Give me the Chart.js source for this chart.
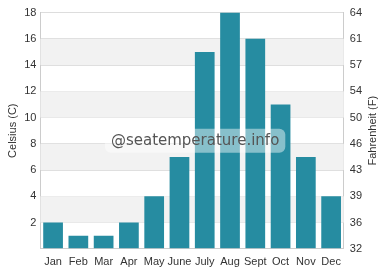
<!DOCTYPE html>
<html><head><meta charset="utf-8">
<script src="https://cdn.jsdelivr.net/npm/chart.js@4/dist/chart.umd.min.js"></script>
<style>html,body{margin:0;padding:0;background:#fff}#w{width:382px;height:280px}</style>
</head><body><div id="w"><canvas id="c"></canvas></div>
<script>
const categories = ["Jan","Feb","Mar","Apr","May","June","July","Aug","Sept","Oct","Nov","Dec"];
const celsiusValues = [2,1,1,2,4,7,15,18,16,11,7,4];
const celsiusTicks = [0,2,4,6,8,10,12,14,16,18];
const watermarkText = "@seatemperature.info";
const rightTitle = "Fahrenheit (F)";

const bandPlugin = {
  id: 'bands',
  beforeDatasetsDraw(chart) {
    const {ctx, chartArea, scales} = chart;
    const y = scales.y;
    ctx.save();
    ctx.fillStyle = '#f2f2f2';
    for (let i = 1; i < celsiusTicks.length - 1; i += 2) {
      const top = y.getPixelForValue(celsiusTicks[i+1]);
      const bot = y.getPixelForValue(celsiusTicks[i]);
      ctx.fillRect(chartArea.left, top, chartArea.right - chartArea.left, bot - top);
    }
    ctx.restore();
  }
};
const wmPlugin = {
  id: 'wm',
  afterDatasetsDraw(chart) {
    const {ctx, chartArea} = chart;
    const cx = (chartArea.left + chartArea.right) / 2 + 3;
    const cy = (chartArea.top + chartArea.bottom) / 2 + 10;
    ctx.save();
    ctx.font = '15px "DejaVu Sans"';
    const w = ctx.measureText(watermarkText).width + 12;
    const h = 24;
    ctx.fillStyle = 'rgba(255,255,255,0.45)';
    ctx.beginPath();
    ctx.roundRect(cx - w/2, cy - h/2, w, h, 6);
    ctx.fill();
    ctx.fillStyle = '#555';
    ctx.textAlign = 'center';
    ctx.textBaseline = 'middle';
    ctx.fillText(watermarkText, cx, cy);
    ctx.restore();
  },
  afterDraw(chart) {
    const {ctx, chartArea} = chart;
    ctx.save();
    ctx.translate(chart.width - 9, (chartArea.top + chartArea.bottom) / 2);
    ctx.rotate(-Math.PI / 2);
    ctx.font = '11px "Liberation Sans"';
    ctx.fillStyle = '#333';
    ctx.textAlign = 'center';
    ctx.textBaseline = 'middle';
    ctx.fillText(rightTitle, 0, 0);
    ctx.restore();
  }
};

new Chart(document.getElementById('c'), {
  type: 'bar',
  data: {
    labels: categories,
    datasets: [{
      data: celsiusValues,
      backgroundColor: '#268ca1',
      barPercentage: 0.78,
      categoryPercentage: 1.0
    }]
  },
  options: {
    responsive: true,
    maintainAspectRatio: false,
    animation: false,
    layout: {padding: {top: 5, right: 14, left: 3, bottom: 4}},
    plugins: {legend: {display: false}, tooltip: {enabled: false}},
    scales: {
      x: {
        grid: {display: false, drawTicks: false},
        border: {color: '#ccc'},
        ticks: {color: '#333', font: {family: 'Liberation Sans', size: 11}, padding: 7, maxRotation: 0, autoSkip: false}
      },
      y: {
        position: 'left',
        min: 0, max: 18,
        afterBuildTicks(s) { s.ticks = celsiusTicks.map(v => ({value: v})); },
        grid: {color: '#dddddd', drawTicks: false},
        border: {color: '#ccc'},
        ticks: {color: '#333', font: {family: 'Liberation Sans', size: 11}, padding: 4,
          callback: v => v === 0 ? '' : v},
        title: {display: true, text: 'Celsius (C)', color: '#333', font: {family: 'Liberation Sans', size: 11}, padding: {top: 3, bottom: 1}}
      },
      y2: {
        position: 'right',
        min: 32, max: 32 + 18 * 1.8,
        afterBuildTicks(s) { s.ticks = celsiusTicks.map(v => ({value: 32 + v * 1.8})); },
        grid: {display: false, drawTicks: false},
        border: {color: '#ccc'},
        ticks: {color: '#333', font: {family: 'Liberation Sans', size: 11}, padding: 6,
          callback: v => Math.round(v)}
      }
    }
  },
  plugins: [bandPlugin, wmPlugin]
});
</script></body></html>
